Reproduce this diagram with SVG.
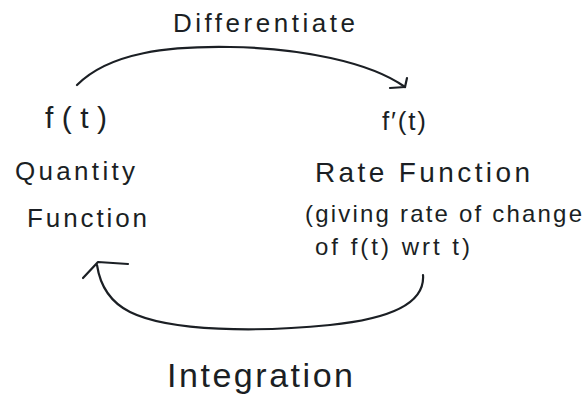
<svg xmlns="http://www.w3.org/2000/svg" width="583" height="397" viewBox="0 0 583 397">
<style>
text{font-family:"Liberation Sans","DejaVu Sans",sans-serif;fill:#1b1f24;}
.c{fill:none;stroke:#1b1f24;stroke-width:2.2;stroke-linecap:round;stroke-linejoin:round;}
</style>
<rect width="583" height="397" fill="#ffffff"/>
<g id="label-differentiate"><text x="173" y="32" font-size="26" textLength="182" lengthAdjust="spacing">Differentiate</text></g>
<g id="node-quantity">
<text x="45" y="128" font-size="30" textLength="62" lengthAdjust="spacing">f(t)</text>
<text x="15" y="180" font-size="26" textLength="120" lengthAdjust="spacing">Quantity</text>
<text x="27" y="227" font-size="26" textLength="120" lengthAdjust="spacing">Function</text>
</g>
<g id="node-rate">
<text x="382" y="130" font-size="26" textLength="44" lengthAdjust="spacing">f′(t)</text>
<text x="315" y="182" font-size="28" textLength="215" lengthAdjust="spacing">Rate Function</text>
<text x="305" y="222" font-size="24" textLength="277" lengthAdjust="spacing">(giving rate of change</text>
<text x="315" y="255" font-size="24" textLength="155" lengthAdjust="spacing">of f(t) wrt t)</text>
</g>
<g id="label-integration"><text x="167" y="387" font-size="34" textLength="186" lengthAdjust="spacing">Integration</text></g>
<g id="connectors">
<path class="c" d="M77 85 C110 52 170 46 230 47 C300 48 370 62 405 87"/>
<path class="c" d="M390 88 L405 87 L407 78"/>
<path class="c" d="M423 275 C425 300 400 318 330 325 C260 332 170 332 130 312 C110 302 100 285 97 265"/>
<path class="c" d="M83 278 L98 262 L128 264"/>
</g>
</svg>
